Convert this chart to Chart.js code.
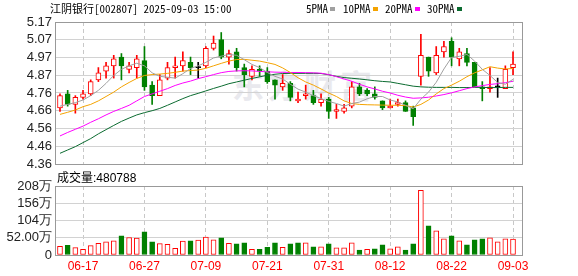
<!DOCTYPE html>
<html><head><meta charset="utf-8">
<script src="https://cdn.jsdelivr.net/npm/chart.js@4.4.1/dist/chart.umd.min.js"></script>
<style>
html,body{margin:0;padding:0;background:#fff;}
body{width:578px;height:276px;position:relative;overflow:hidden;}
canvas{position:absolute;left:0;z-index:1;}
#kc{top:0;}
#vc{top:170px;}
.t{position:absolute;white-space:nowrap;color:#000;z-index:2;}
.hd{font:11px/13px 'Noto Sans Mono CJK SC','Noto Sans CJK SC','Liberation Mono',monospace;}
.sq{position:absolute;width:5px;height:4px;top:7px;z-index:2;}
#wm{position:absolute;left:232px;top:66px;font:bold 32px/36px 'Noto Sans CJK SC',sans-serif;color:#e9e9ee;letter-spacing:4px;z-index:0;}
#vh{font:12px/14px 'Liberation Sans','Noto Sans CJK SC',sans-serif;}
</style></head>
<body>
<div id="wm">东方财富</div>
<div class="t hd" style="left:50px;top:2px;">江阴银行[002807] 2025-09-03 15:00</div>
<div class="t hd" style="left:306px;top:2px;">5PMA</div><div class="sq" style="left:330px;background:#a0a0a0"></div>
<div class="t hd" style="left:343px;top:2px;">10PMA</div><div class="sq" style="left:373px;background:#f4a300"></div>
<div class="t hd" style="left:385px;top:2px;">20PMA</div><div class="sq" style="left:415px;background:#ff00ff"></div>
<div class="t hd" style="left:427px;top:2px;">30PMA</div><div class="sq" style="left:457px;background:#0b6b30"></div>
<div class="t" id="vh" style="left:57px;top:171px;"></div>
<canvas id="kc" width="578" height="180"></canvas>
<canvas id="vc" width="578" height="106"></canvas>
<script>
const dates = ['06-12','06-13','06-16','06-17','06-18','06-19','06-20','06-23','06-24','06-25','06-26','06-27','06-30',
'07-01','07-02','07-03','07-04','07-07','07-08','07-09','07-10','07-11','07-14','07-15','07-16','07-17','07-18','07-21','07-22','07-23','07-24','07-25','07-28','07-29','07-30','07-31',
'08-01','08-04','08-05','08-06','08-07','08-08','08-11','08-12','08-13','08-14','08-15','08-18','08-19','08-20','08-21','08-22','08-25','08-26','08-27','08-28','08-29',
'09-01','09-02','09-03'];
const xTickDates = ['06-17','06-27','07-09','07-21','07-31','08-12','08-22','09-03'];
const priceTickLabels = ['4.36','4.46','4.56','4.66','4.76','4.87','4.97','5.07','5.17'];
const volTickLabels = ['0','52.00万','104万','156万','208万'];
const volTickValues = [0,52,104,156,208];

const open  = [4.68,4.76,4.70,4.74,4.76,4.84,4.89,4.92,4.97,4.90, 4.91,4.95,4.81,4.75,4.85,4.91,4.92,4.94,4.91,4.92, 5.02,5.07,4.97,5.00,4.91,4.86,4.90,4.89,4.84,4.80, 4.82,4.72,4.75,4.75,4.71,4.73,4.66,4.66,4.69,4.80, 4.78,4.76,4.72,4.68,4.70,4.71,4.68,4.86,4.97,4.88, 5.00,5.06,4.96,4.99,4.94,4.80,4.79,4.80,4.79,4.91];
const high  = [4.76,4.78,4.75,4.78,4.84,4.91,4.94,4.98,4.99,4.94, 4.98,5.03,4.83,4.87,4.94,4.97,5.00,4.97,4.94,5.03, 5.09,5.11,5.01,5.02,4.93,4.92,4.92,4.91,4.84,4.87, 4.83,4.77,4.81,4.78,4.76,4.74,4.70,4.70,4.83,4.82, 4.79,4.80,4.72,4.73,4.73,4.72,4.69,5.10,4.97,5.03, 5.06,5.08,5.02,5.02,4.94,4.83,4.91,4.85,4.92,5.00];
const low   = [4.66,4.69,4.65,4.73,4.75,4.83,4.85,4.85,4.84,4.88, 4.85,4.78,4.70,4.75,4.84,4.85,4.89,4.87,4.85,4.91, 5.01,4.96,4.93,4.89,4.80,4.84,4.86,4.82,4.73,4.78, 4.72,4.71,4.73,4.70,4.69,4.62,4.62,4.65,4.68,4.75, 4.75,4.73,4.67,4.68,4.69,4.66,4.58,4.81,4.86,4.87, 4.97,4.92,4.92,4.92,4.80,4.72,4.77,4.74,4.79,4.87];
const close = [4.75,4.70,4.74,4.76,4.83,4.88,4.92,4.96,4.92,4.92, 4.96,4.80,4.75,4.84,4.91,4.92,4.95,4.91,4.91,5.02, 5.05,4.97,4.99,4.91,4.87,4.90,4.89,4.83,4.81,4.82, 4.74,4.73,4.76,4.71,4.73,4.66,4.67,4.68,4.80,4.76, 4.76,4.74,4.68,4.69,4.71,4.66,4.63,4.98,4.89,4.98, 5.03,4.97,5.00,4.94,4.80,4.79,4.80,4.80,4.90,4.93];

const ma5  = [4.69,4.70,4.71,4.725,4.75,4.78,4.82,4.865,4.90,4.92, 4.935,4.92,4.88,4.86,4.855,4.85,4.875,4.905,4.92,4.94, 4.965,4.975,4.985,4.98,4.955,4.928,4.91,4.882,4.86,4.845, 4.815,4.787,4.77,4.75,4.733,4.717,4.705,4.69,4.705,4.713, 4.732,4.745,4.745,4.725,4.714,4.695,4.675,4.73,4.77,4.826, 4.902,4.968,4.974,4.985,4.947,4.90,4.865,4.825,4.815,4.843];
const ma10 = [4.643,4.655,4.668,4.687,4.70,4.72,4.745,4.77,4.80,4.825, 4.848,4.865,4.87,4.873,4.877,4.883,4.89,4.893,4.896,4.906, 4.92,4.934,4.947,4.956,4.957,4.952,4.947,4.938,4.928,4.908, 4.882,4.852,4.828,4.81,4.788,4.765,4.745,4.72,4.705,4.70, 4.698,4.697,4.696,4.695,4.695,4.693,4.685,4.70,4.725,4.76, 4.79,4.81,4.832,4.858,4.88,4.897,4.915,4.907,4.902,4.905];
const ma20 = [4.52,4.54,4.558,4.576,4.598,4.618,4.64,4.66,4.677,4.695, 4.72,4.745,4.76,4.775,4.79,4.808,4.822,4.833,4.847,4.858, 4.87,4.881,4.888,4.891,4.892,4.891,4.888,4.886,4.884,4.883, 4.882,4.882,4.881,4.88,4.878,4.87,4.858,4.845,4.832,4.815, 4.80,4.788,4.775,4.765,4.752,4.742,4.735,4.737,4.741,4.748, 4.756,4.766,4.778,4.79,4.80,4.807,4.814,4.818,4.824,4.832];
const ma30 = [4.421,4.44,4.459,4.482,4.505,4.532,4.556,4.58,4.603,4.622, 4.64,4.653,4.664,4.677,4.695,4.714,4.733,4.75,4.763,4.777, 4.791,4.804,4.818,4.828,4.838,4.848,4.857,4.866,4.872,4.876, 4.877,4.877,4.877,4.877,4.876,4.869,4.86,4.853,4.849,4.845, 4.84,4.835,4.831,4.828,4.82,4.812,4.804,4.80,4.798,4.797, 4.797,4.797,4.796,4.796,4.797,4.797,4.796,4.796,4.797,4.797];

// volume in 万
const volume = [26.4,29.4,22.3,17.2,28.4,35.5,39.6,42.6,57.8,52.8, 50.7,70.0,39.6,34.5,32.5,20.3,41.6,42.6,44.6,53.8, 45.7,51.7,35.5,33.5,36.5,17.2,17.2,23.3,36.5,23.3, 33.5,36.5,36.5,24.4,24.4,33.5,21.3,21.3,36.5,15.2, 17.2,18.3,30.4,18.3,24.4,15.2,33.5,194.8,88.3,73.0, 48.7,57.8,42.6,30.4,45.7,48.7,51.7,39.6,48.7,48.0788];

// ---- styles ----
const RED = '#ff0000', GREEN = '#008000', BLACK = '#000000';
const candleColor = dates.map((_, i) => close[i] > open[i] ? RED : (close[i] < open[i] ? GREEN : BLACK));
const bodyFill = dates.map((_, i) => close[i] > open[i] ? '#ffffff' : candleColor[i]);
const volColor = dates.map((_, i) => { const p = i > 0 ? close[i-1] : open[i]; return close[i] >= p ? RED : GREEN; });
const volFill = volColor.map(c => c === RED ? '#ffffff' : c);

document.getElementById('vh').textContent = '成交量:' + Math.round(volume[volume.length-1] * 10000);

Chart.defaults.font.family = "'Liberation Sans', Arial, sans-serif";
Chart.defaults.animation = false;

const tickIdx = xTickDates.map(d => dates.indexOf(d));
const X_MIN = -0.65, X_MAX = 60.17;
function xScale(showLabels, h) {
  return {
    type: 'linear', min: X_MIN, max: X_MAX, offset: false,
    afterBuildTicks: s => { s.ticks = tickIdx.map(v => ({ value: v })); },
    afterFit: s => { s.height = h; },
    ticks: { display: showLabels, autoSkip: false, maxRotation: 0, padding: 4, color: RED,
             font: { size: 12 }, callback: v => dates[v] },
    grid: { color: '#c8c8c8', lineWidth: 1, drawTicks: false, offset: false },
    border: { display: false, dash: [4, 3] }
  };
}
function yScale(min, max, labels, values) {
  return {
    type: 'linear', min: min, max: max,
    afterBuildTicks: s => { s.ticks = values.map(v => ({ value: v })); },
    afterFit: s => { s.width = 55; },
    ticks: { autoSkip: false, padding: 3, color: '#222', font: { size: 13 }, callback: (v, i) => labels[i] },
    grid: { color: '#d2d2d2', lineWidth: 1, drawTicks: false },
    border: { display: false }
  };
}
const framePlugin = { id: 'frame', afterDraw(chart) {
  const { ctx, chartArea: a } = chart;
  ctx.save(); ctx.strokeStyle = '#999'; ctx.lineWidth = 1;
  ctx.strokeRect(Math.round(a.left) + 0.5, Math.round(a.top) + 0.5, Math.round(a.right - a.left), Math.round(a.bottom - a.top));
  ctx.restore();
}};

const pMin = parseFloat(priceTickLabels[0]), pMax = parseFloat(priceTickLabels[priceTickLabels.length-1]);
const pStep = (pMax - pMin) / (priceTickLabels.length - 1);
const priceTickValues = priceTickLabels.map((_, k) => pMin + k * pStep);

function maDataset(arr, color) {
  return { type: 'line', data: arr.map((v, i) => ({ x: i, y: v })), borderColor: color, borderWidth: 1,
           pointRadius: 0, tension: 0, fill: false, order: 0 };
}

new Chart(document.getElementById('kc'), {
  type: 'bar',
  data: { datasets: [
    maDataset(ma5, '#a0a0a0'),
    maDataset(ma10, '#f4a300'),
    maDataset(ma20, '#ff00ff'),
    maDataset(ma30, '#0b6b30'),
    { type: 'bar', data: dates.map((_, i) => ({ x: i, y: [open[i], close[i]] })), grouped: false,
      barThickness: 5, borderWidth: 1, borderSkipped: false, minBarLength: 1,
      backgroundColor: bodyFill, borderColor: candleColor, order: 2 },
    { type: 'bar', data: dates.map((_, i) => ({ x: i, y: [low[i], high[i]] })), grouped: false,
      barThickness: 1, borderWidth: 0, backgroundColor: candleColor, order: 3 }
  ]},
  options: {
    responsive: false, animation: false,
    layout: { padding: { top: 22, right: 56, left: 0, bottom: 0 } },
    plugins: { legend: { display: false }, tooltip: { enabled: false } },
    scales: { x: xScale(false, 16), y: yScale(pMin, pMax, priceTickLabels, priceTickValues) }
  },
  plugins: [framePlugin]
});

new Chart(document.getElementById('vc'), {
  type: 'bar',
  data: { datasets: [
    { data: dates.map((_, i) => ({ x: i, y: volume[i] })), grouped: false,
      barThickness: 5, borderWidth: 1, borderSkipped: false,
      backgroundColor: volFill, borderColor: volColor }
  ]},
  options: {
    responsive: false, animation: false,
    layout: { padding: { top: 16, right: 56, left: 0, bottom: 0 } },
    plugins: { legend: { display: false }, tooltip: { enabled: false } },
    scales: { x: xScale(true, 21), y: yScale(volTickValues[0], volTickValues[volTickValues.length-1], volTickLabels, volTickValues) }
  },
  plugins: [framePlugin]
});
</script>
</body></html>
